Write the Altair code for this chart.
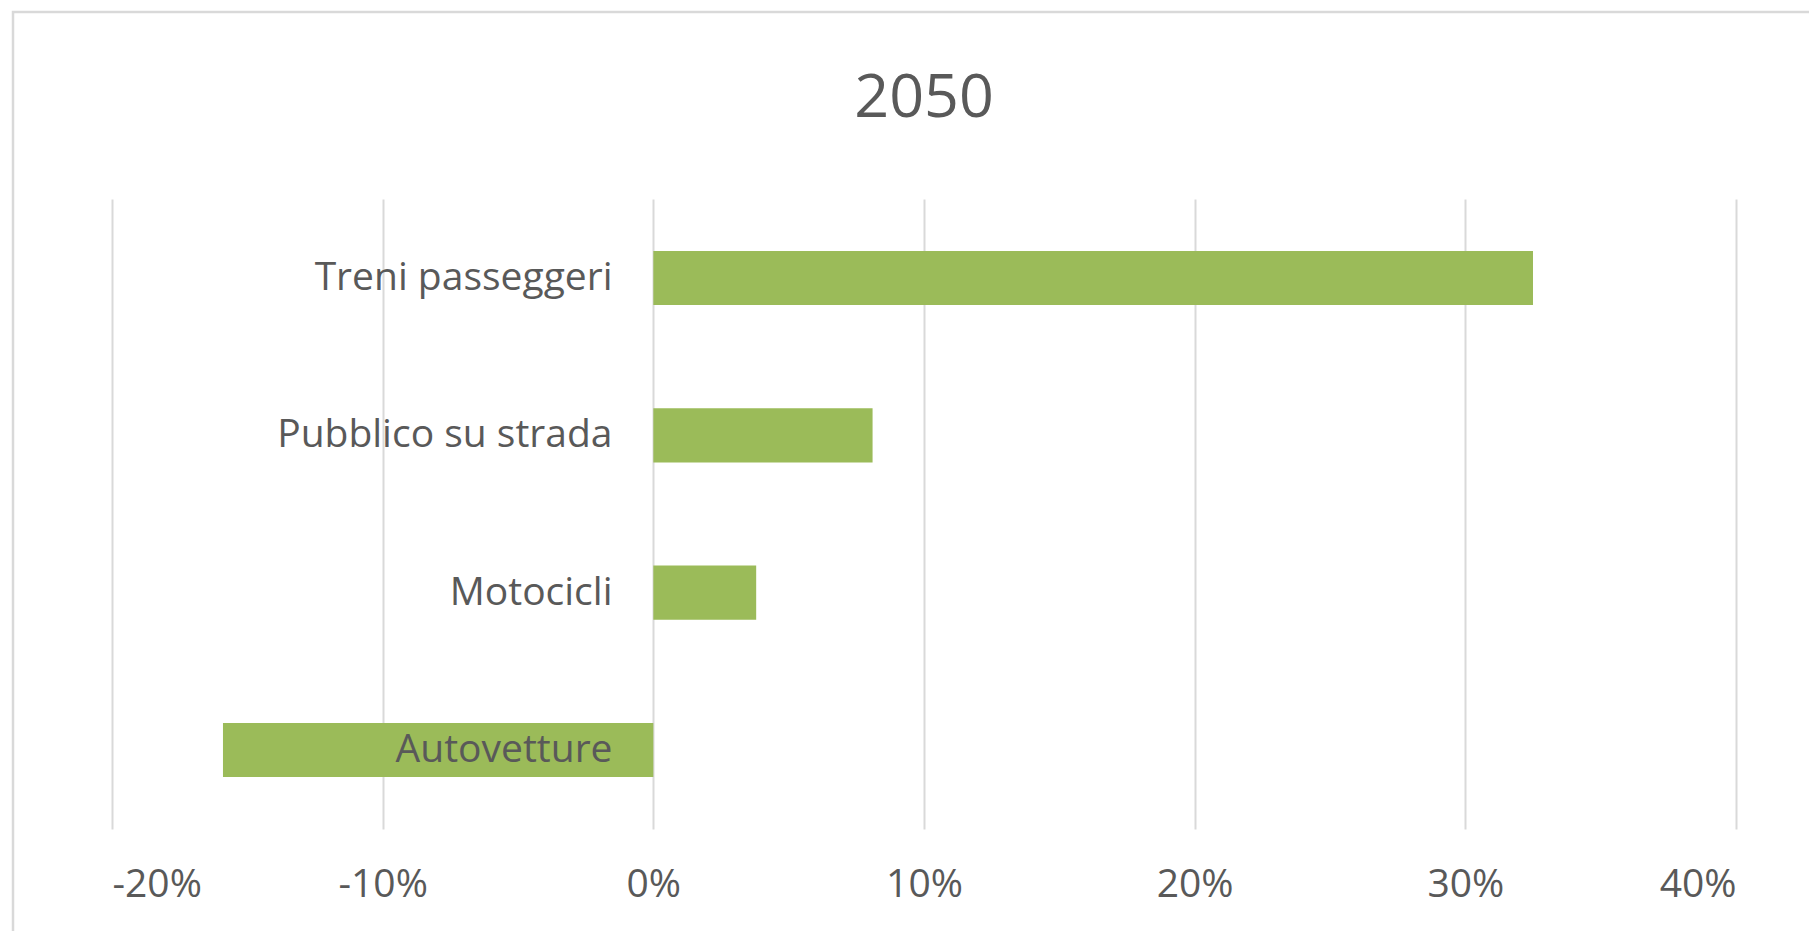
import altair as alt
import pandas as pd

categories = ["Treni passeggeri", "Pubblico su strada", "Motocicli", "Autovetture"]
values = [0.325, 0.081, 0.038, -0.159]
tick_values = [-0.2, -0.1, 0.0, 0.1, 0.2, 0.3, 0.4]

df = pd.DataFrame({"categoria": categories, "valore": values})

FONT = "Open Sans"
GRAY = "#595959"

bars = alt.Chart(df).mark_bar(color="#9BBB59").encode(
    x=alt.X(
        "valore:Q",
        scale=alt.Scale(domain=[-0.2, 0.4], nice=False, zero=False),
        axis=alt.Axis(
            values=tick_values,
            format=".0%",
            labelExpr="replace(datum.label, '\u2212', '-')",
            title=None,
            grid=True,
            gridColor="#D9D9D9",
            gridWidth=2,
            domain=False,
            ticks=False,
            labelFont=FONT,
            labelFontSize=39,
            labelColor=GRAY,
            labelPadding=36,
        ),
    ),
    y=alt.Y(
        "categoria:N",
        sort=categories,
        scale=alt.Scale(paddingInner=0.656, paddingOuter=0.33),
        axis=alt.Axis(
            title=None,
            domain=False,
            ticks=False,
            grid=False,
            offset=-542,
            labelPadding=42,
            labelLimit=0,
            labelFont=FONT,
            labelFontSize=39,
            labelColor=GRAY,
            zindex=2,
        ),
    ),
)

# decorative chart-area frame (light gray border, as in the spreadsheet chart)
frame = alt.Chart(pd.DataFrame({"frame": [0]})).mark_rect(
    fill=None, stroke="#D9D9D9", strokeWidth=2.5
).encode(
    x=alt.value(-99),
    x2=alt.value(1800),
    y=alt.value(-187),
    y2=alt.value(900),
)

chart = alt.layer(frame, bars).properties(
    width=1624,
    height=630,
    background="white",
    title=alt.TitleParams(
        "2050",
        font=FONT,
        fontSize=61,
        fontWeight="normal",
        color=GRAY,
        anchor="middle",
        frame="group",
        baseline="alphabetic",
        offset=-167,
    ),
    autosize=alt.AutoSizeParams(type="none"),
    padding={"left": 104, "top": 191, "right": 73, "bottom": 102},
).configure_view(stroke=None)

chart.save("out.html", embed_options={"renderer": "svg", "actions": False})
